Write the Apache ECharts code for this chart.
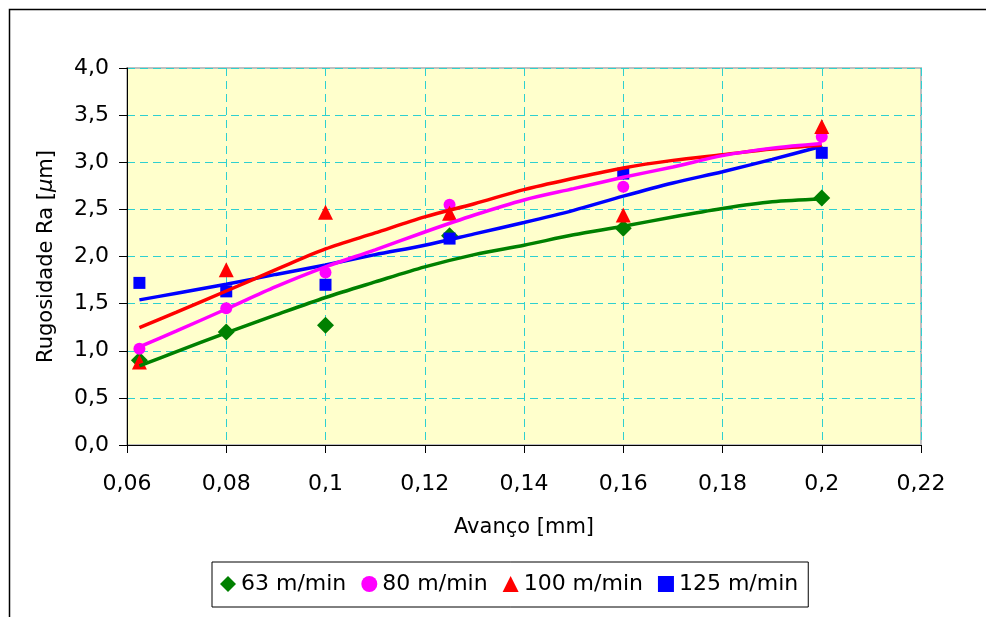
<!DOCTYPE html>
<html>
<head>
<meta charset="utf-8">
<script src="https://cdn.jsdelivr.net/npm/echarts@6/dist/echarts.min.js"></script>
<style>
html,body{margin:0;padding:0;background:#fff;}
#chart{width:986px;height:617px;}
</style>
</head>
<body>
<div id="chart"></div>
<script>
// Measured points
const feedX = [0.0625, 0.08, 0.1, 0.125, 0.16, 0.2];
const ra63 = [0.90, 1.20, 1.27, 2.22, 2.30, 2.62];
const ra80 = [1.02, 1.45, 1.83, 2.55, 2.74, 3.27];
const ra100 = [0.88, 1.86, 2.47, 2.46, 2.44, 3.38];
const ra125 = [1.72, 1.63, 1.70, 2.19, 2.88, 3.10];

// Trend lines
const trendX = [0.0625, 0.07, 0.08, 0.09, 0.1, 0.11, 0.12, 0.13, 0.14, 0.15, 0.16, 0.17, 0.18, 0.19, 0.2];
const trend63 = [0.84, 0.99, 1.19, 1.38, 1.565, 1.73, 1.89, 2.02, 2.12, 2.23, 2.32, 2.42, 2.51, 2.58, 2.61];
const trend80 = [1.04, 1.21, 1.443, 1.68, 1.89, 2.07, 2.26, 2.44, 2.60, 2.72, 2.84, 2.95, 3.07, 3.15, 3.20];
const trend100 = [1.245, 1.41, 1.634, 1.86, 2.08, 2.25, 2.42, 2.56, 2.71, 2.83, 2.94, 3.02, 3.08, 3.14, 3.18];
const trend125 = [1.54, 1.61, 1.705, 1.81, 1.91, 2.02, 2.12, 2.24, 2.36, 2.49, 2.64, 2.78, 2.90, 3.03, 3.17];

const seriesNames = ['63 m/min', '80 m/min', '100 m/min', '125 m/min'];
const xTitle = 'Avanço [mm]';

const pair = (xs, ys) => xs.map((x, i) => [x, ys[i]]);
const FONT = 'DejaVu Sans';

const chart = echarts.init(document.getElementById('chart'));

const scatterDefs = [
  {name: seriesNames[0], data: ra63, color: '#008000', symbol: 'diamond', size: 17, z: 3},
  {name: seriesNames[1], data: ra80, color: '#FF00FF', symbol: 'circle', size: 12, z: 4},
  {name: seriesNames[2], data: ra100, color: '#FF0000', symbol: 'triangle', size: 15, z: 5},
  {name: seriesNames[3], data: ra125, color: '#0000FF', symbol: 'rect', size: 12, z: 6}
];
const trendDefs = [
  {data: trend63, color: '#008000', z: 10},
  {data: trend125, color: '#0000FF', z: 11},
  {data: trend100, color: '#FF0000', z: 12},
  {data: trend80, color: '#FF00FF', z: 13}
];

const series = [];
scatterDefs.forEach(d => series.push({
  name: d.name, type: 'scatter', data: pair(feedX, d.data),
  symbol: d.symbol, symbolSize: d.size, z: d.z,
  itemStyle: {color: d.color, opacity: 1}, silent: true
}));
trendDefs.forEach(d => series.push({
  type: 'line', data: pair(trendX, d.data), showSymbol: false, symbol: 'none',
  smooth: 0.3, z: d.z, lineStyle: {color: d.color, width: 3.5}, silent: true
}));

chart.setOption({
  animation: false,
  backgroundColor: '#fff',
  textStyle: {fontFamily: FONT},
  graphic: [{
    type: 'rect', left: 7, top: 7,
    shape: {x: 0, y: 0, width: 1000, height: 700},
    style: {fill: 'none', stroke: '#000', lineWidth: 1.5}, z: -1
  }],
  grid: {
    left: 127, top: 68, right: 65, bottom: 172,
    show: true, backgroundColor: '#FFFFCC', borderColor: '#C0C0C0', borderWidth: 2
  },
  legend: {
    left: 212, top: 562,
    data: [
      {name: seriesNames[0], icon: 'diamond'},
      {name: seriesNames[1], icon: 'circle'},
      {name: seriesNames[2], icon: 'triangle'},
      {name: seriesNames[3], icon: 'rect'}
    ],
    itemWidth: 16, itemHeight: 16, itemGap: 15,
    padding: [11, 10, 12, 8],
    borderColor: '#000', borderWidth: 1, backgroundColor: '#fff',
    textStyle: {fontFamily: FONT, fontSize: 22, color: '#000'},
    selectedMode: false
  },
  xAxis: {
    type: 'value', min: 0.06, max: 0.22, interval: 0.02,
    name: xTitle, nameLocation: 'middle', nameGap: 72,
    nameTextStyle: {fontFamily: FONT, fontSize: 21, color: '#000'},
    axisLine: {show: true, onZero: false, lineStyle: {color: '#000', width: 1}},
    axisTick: {show: true, length: 8, lineStyle: {color: '#000'}},
    axisLabel: {
      margin: 28, fontFamily: FONT, fontSize: 22, color: '#000',
      formatter: v => String(Math.round(v * 100) / 100).replace('.', ',')
    },
    splitLine: {show: true, lineStyle: {color: '#2ED0D0', type: [8, 5], width: 1}}
  },
  yAxis: {
    type: 'value', min: 0, max: 4, interval: 0.5,
    name: 'Rugosidade Ra [{i|μ}m]', nameLocation: 'middle', nameGap: 70,
    nameTextStyle: {fontFamily: FONT, fontSize: 21, color: '#000',
      rich: {i: {fontFamily: FONT, fontSize: 21, fontStyle: 'italic', color: '#000'}}},
    axisLine: {show: true, lineStyle: {color: '#000', width: 1}},
    axisTick: {show: true, length: 8, lineStyle: {color: '#000'}},
    axisLabel: {
      margin: 18, fontFamily: FONT, fontSize: 22, color: '#000',
      formatter: v => v.toFixed(1).replace('.', ',')
    },
    splitLine: {show: true, lineStyle: {color: '#2ED0D0', type: [8, 5], width: 1}}
  },
  series: series
});
</script>
</body>
</html>
